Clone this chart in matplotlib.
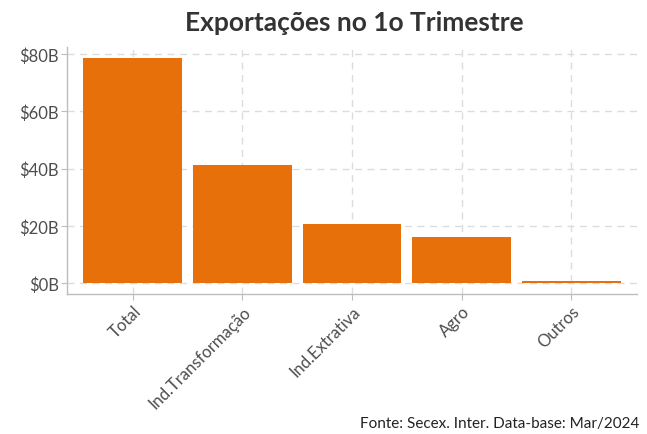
import numpy as np
import matplotlib.pyplot as plt
from matplotlib.ticker import FuncFormatter

plt.rcParams['font.family'] = ['Lato', 'DejaVu Sans']

setores = ["Total", "Ind.Transformação", "Ind.Extrativa", "Agro", "Outros"]
valores = [78.6, 41.2, 20.6, 16.2, 0.6]  # bilhões de US$
yticks = [0, 20, 40, 60, 80]

fig = plt.figure(figsize=(6.47, 4.35), dpi=100)
ax = fig.add_axes([0.1036, 0.321, 0.881, 0.569])

x = np.arange(len(setores))
ax.bar(x, valores, width=0.9, color="#e8700a", zorder=2)

# margem de 5% em cada lado, estilo ggplot
ax.set_xlim(-0.6, len(setores) - 0.4)
ymax = max(valores)
ax.set_ylim(-0.05 * ymax, 1.05 * ymax)
ax.set_yticks(yticks)
ax.yaxis.set_major_formatter(FuncFormatter(lambda v, p: f"${v:.0f}B"))
ax.set_xticks(x)
ax.set_xticklabels(setores, rotation=45, ha="right", rotation_mode="anchor")

ax.grid(True, color="#dcdcdc", linestyle=(0, (5, 4)), linewidth=1.0, zorder=0)
for s in ["top", "right"]:
    ax.spines[s].set_visible(False)
for s in ["left", "bottom"]:
    ax.spines[s].set_color("#bdbdbd")
    ax.spines[s].set_linewidth(1.0)
ax.tick_params(colors="#bdbdbd", labelcolor="#4d4d4d", labelsize=12,
               length=4, pad=2)

fig.suptitle("Exportações no 1o Trimestre", x=0.548, y=0.975, va="top",
             fontsize=19, fontweight="bold", color="#333333")
fig.text(0.988, 0.01, "Fonte: Secex. Inter. Data-base: Mar/2024", ha="right",
         va="bottom", fontsize=11, color="#222222")

fig.savefig("out.png", dpi=100)
